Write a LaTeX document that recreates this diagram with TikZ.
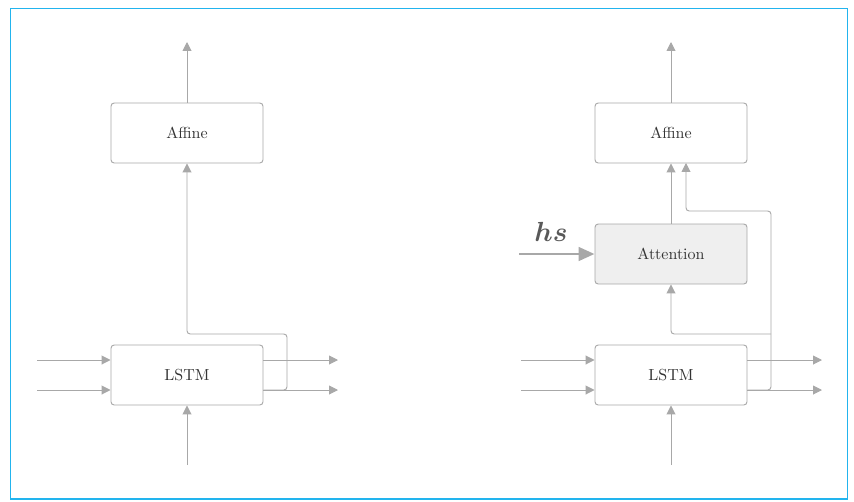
\documentclass[tikz,border=0pt]{standalone}
\usepackage{bm}
\usetikzlibrary{arrows.meta}
\definecolor{ln}{HTML}{A8A8A8}
\definecolor{tx}{HTML}{333333}
\definecolor{fr}{HTML}{22B4EE}
\definecolor{attfill}{HTML}{EFEFEF}
\tikzset{
  blk/.style={draw=ln, line width=0.6pt, rounded corners=2pt, minimum width=95pt, minimum height=37.5pt, text=tx, font=\normalsize},
  conn/.style={draw=ln, line width=0.6pt, -{Triangle[length=5.5pt,width=5.5pt]}},
  wire/.style={draw=ln, line width=0.6pt, rounded corners=2pt},
}
\begin{document}
\begin{tikzpicture}[x=0.625pt,y=-0.625pt]
\useasboundingbox (0,0) rectangle (854,502);
\draw[fr, line width=0.8pt] (10.5,8.5) rectangle (847.5,499);
% left
\node[blk] (LA) at (187,133) {Affine};
\node[blk] (LL) at (187,375) {LSTM};
\coordinate (ltop) at (187,42);
\coordinate (lbot) at (187,465);
\coordinate (lin1) at (37,360);
\coordinate (lin2) at (37,390);
\coordinate (lout1) at (338,360);
\coordinate (lout2) at (338,390);
\draw[conn] (LA.north) -- (ltop);
\draw[conn] (lbot) -- (LL.south);
\draw[conn] (lin1) -- (lin1 -| LL.west);
\draw[conn] (lin2) -- (lin2 -| LL.west);
\draw[conn] (lout1 -| LL.east) -- (lout1);
\draw[conn] (lout2 -| LL.east) -- (lout2);
\draw[wire,-{Triangle[length=5.5pt,width=5.5pt]}] (lout2 -| LL.east) -- (287,390) -- (287,334) -- (187,334) -- (LA.south);
% right
\node[blk] (RA) at (671,133) {Affine};
\node[blk, fill=attfill] (RT) at (671,254) {Attention};
\node[blk] (RL) at (671,375) {LSTM};
\coordinate (rtop) at (671,42);
\coordinate (rbot) at (671,465);
\coordinate (rin1) at (521,360);
\coordinate (rin2) at (521,390);
\coordinate (rout1) at (822,360);
\coordinate (rout2) at (822,390);
\coordinate (hs) at (519,254);
\draw[conn] (RA.north) -- (rtop);
\draw[conn] (rbot) -- (RL.south);
\draw[conn] (rin1) -- (rin1 -| RL.west);
\draw[conn] (rin2) -- (rin2 -| RL.west);
\draw[conn] (rout1 -| RL.east) -- (rout1);
\draw[conn] (rout2 -| RL.east) -- (rout2);
\draw[conn] (RT.north) -- (RA.south);
\draw[wire,-{Triangle[length=5.5pt,width=5.5pt]}] (rout2 -| RL.east) -- (771,390) -- (771,211) -- (686,211) -- (686,163);
\draw[wire,-{Triangle[length=5.5pt,width=5.5pt]}] (771,334) -- (671,334) -- (RT.south);
\draw[draw=ln, line width=1.8pt, -{Triangle[length=10pt,width=8.5pt]}] (hs) -- (RT.west);
\node[text=black!65, font=\LARGE] (hslab) at (551,232) {$\bm{hs}$};
\end{tikzpicture}
\end{document}
